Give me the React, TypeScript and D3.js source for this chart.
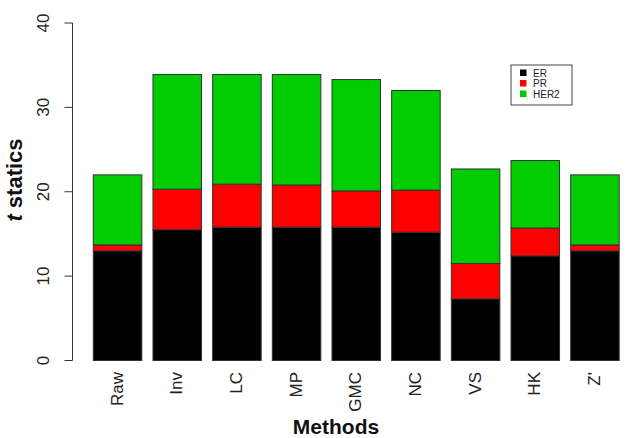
import React from "react";
import * as d3 from "d3";

const methods = ["Raw", "Inv", "LC", "MP", "GMC", "NC", "VS", "HK", "Z'"];
const erValues = [13.0, 15.5, 15.8, 15.8, 15.8, 15.2, 7.3, 12.4, 13.0];
const prValues = [0.7, 4.8, 5.1, 5.0, 4.3, 5.0, 4.2, 3.3, 0.7];
const her2Values = [8.3, 13.6, 13.0, 13.1, 13.2, 11.8, 11.2, 8.0, 8.3];
const seriesNames = ["ER", "PR", "HER2"];
const seriesColors = ["#000000", "#FF0000", "#00CD00"];
const yTicks = [0, 10, 20, 30, 40];

const W = 628;
const H = 438;
const font = "Liberation Sans, Arial, Helvetica, sans-serif";

export default function App() {
  const y = d3.scaleLinear().domain([0, 40]).range([360.5, 23]);
  const x = d3
    .scaleBand<string>()
    .domain(methods)
    .range([93.3, 619.2])
    .paddingInner(0.187)
    .paddingOuter(0);

  const rows = methods.map((m, i) => ({
    method: m,
    ER: erValues[i],
    PR: prValues[i],
    HER2: her2Values[i],
  }));
  const stacked = d3.stack<any>().keys(seriesNames)(rows);

  const axisX = 72.5;

  return (
    <svg
      width={W}
      height={H}
      style={{ position: "absolute", left: 0, top: 0, background: "#fff" }}
      fontFamily={font}
    >
      <rect x={0} y={0} width={W} height={H} fill="#fff" />
      {stacked.map((layer, si) =>
        layer.map((d, i) => (
          <rect
            key={`${si}-${i}`}
            x={x(methods[i])}
            y={y(d[1])}
            width={x.bandwidth()}
            height={y(d[0]) - y(d[1])}
            fill={seriesColors[si]}
            stroke="#333"
            strokeWidth={1}
          />
        ))
      )}
      {/* Y axis */}
      <line x1={axisX} x2={axisX} y1={y(40)} y2={y(0)} stroke="#333" strokeWidth={1} />
      {yTicks.map((t) => (
        <g key={t}>
          <line x1={axisX - 8} x2={axisX} y1={y(t)} y2={y(t)} stroke="#333" strokeWidth={1} />
          <text
            transform={`translate(${49},${y(t)}) rotate(-90)`}
            textAnchor="middle"
            fontSize={17}
            fill="#222"
          >
            {t}
          </text>
        </g>
      ))}
      {/* X labels */}
      {methods.map((m) => (
        <text
          key={m}
          transform={`translate(${x(m)! + x.bandwidth() / 2 + 5},${372}) rotate(-90)`}
          textAnchor="end"
          fontSize={17}
          fill="#222"
        >
          {m}
        </text>
      ))}
      {/* axis titles */}
      <text
        transform={`translate(${22},${180}) rotate(-90)`}
        textAnchor="middle"
        fontSize={22}
        fontWeight="bold"
        fill="#111"
      >
        <tspan fontStyle="italic">t</tspan> statics
      </text>
      <text x={336} y={434} textAnchor="middle" fontSize={21} fontWeight="bold" fill="#111">
        Methods
      </text>
      {/* legend */}
      <rect x={511} y={65} width={61} height={40} fill="#fff" stroke="#444" strokeWidth={1} />
      {seriesNames.map((s, i) => (
        <g key={s}>
          <rect x={520} y={69.5 + i * 10.5} width={6.5} height={6.5} fill={seriesColors[i]} />
          <text x={533} y={76.5 + i * 10.5} fontSize={10} fill="#222">
            {s}
          </text>
        </g>
      ))}
    </svg>
  );
}
